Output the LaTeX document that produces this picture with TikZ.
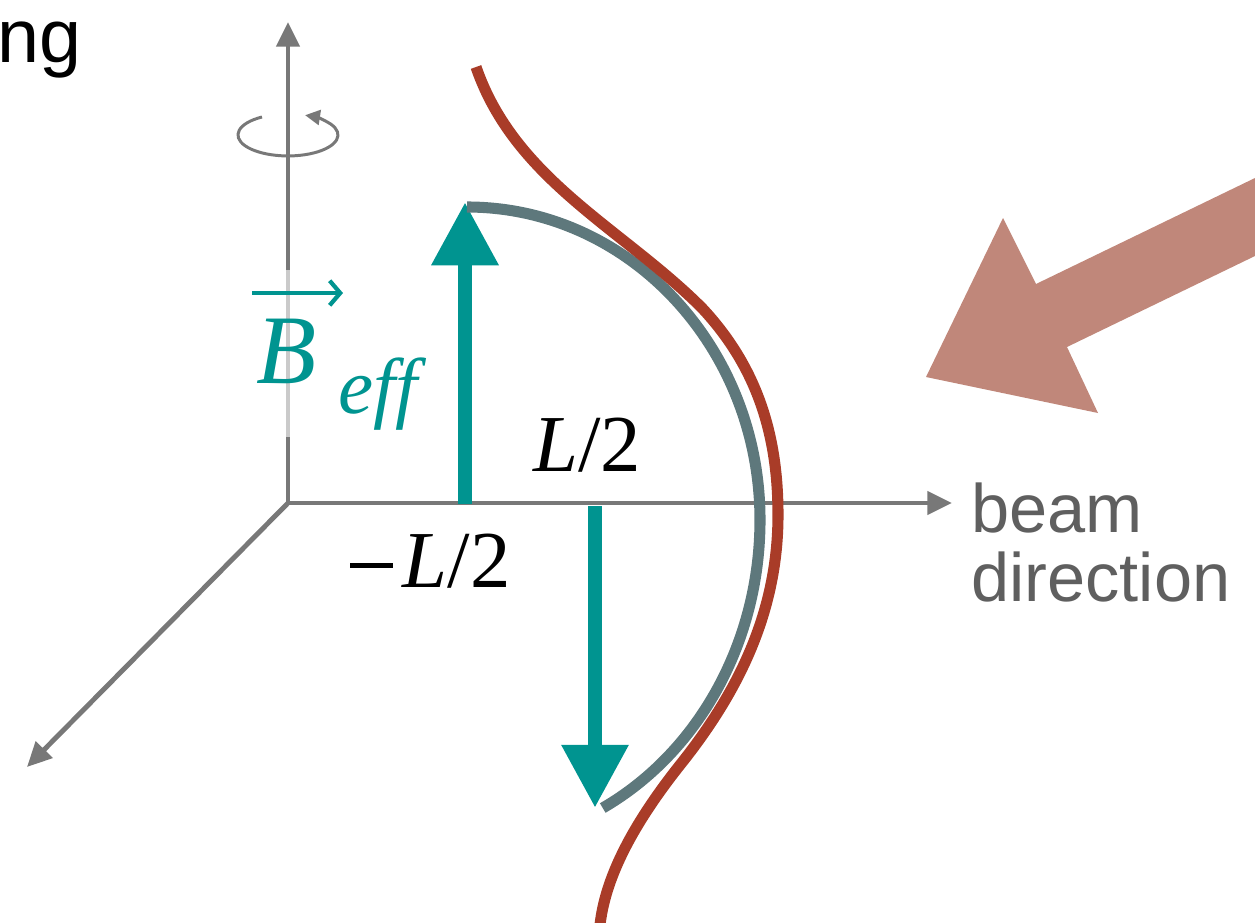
\documentclass[tikz,border=0pt]{standalone}
\usepackage{fontspec}
\setmainfont{Liberation Sans}
\newfontfamily\seriffont{Liberation Serif}
\usetikzlibrary{arrows.meta}
\definecolor{axisgray}{RGB}{120,120,120}
\definecolor{axislight}{RGB}{202,202,202}
\definecolor{field}{RGB}{0,148,144}
\definecolor{spin}{RGB}{94,120,124}
\definecolor{orbit}{RGB}{169,60,40}
\definecolor{beam}{RGB}{192,135,122}
\definecolor{labelgray}{RGB}{95,95,95}
\newcommand{\minussign}{\rule[0.24em]{0.53em}{0.055em}\hspace{0.12em}}

\begin{document}
\begin{tikzpicture}[x=0.02cm,y=-0.02cm,
    axis/.style={axisgray,line width=2.8pt,-{Triangle[length=14pt,width=13pt]}},
    fieldarrow/.style={field,line width=8.5pt,-{Triangle[length=36pt,width=36pt]}},
    lbl/.style={inner sep=0pt,anchor=base west,font=\seriffont\fontsize{46}{50}\selectfont}]
  \useasboundingbox (0,0) rectangle (1255,923);

  % axes
  \coordinate (O) at (288,503);
  \coordinate (up) at (288,22);
  \coordinate (beamend) at (952,503);
  \coordinate (depth) at (27,767);
  \draw[axis] (O) -- (up);
  \draw[axis] (O) -- (beamend);
  \draw[axis] (O) -- (depth);
  \draw[axislight,line width=2.8pt] (288,270) -- (288,437);
  % sense of rotation
  \draw[axisgray,line width=1.7pt,-{Triangle[length=8.5pt,width=8.5pt]}]
    (262,117) arc[start angle=238.7,end angle=-70,x radius=50,y radius=21];

  % field arrows
  \draw[fieldarrow] (465,504) -- (465,202);
  \draw[fieldarrow] (595,506) -- (595,808);

  % spin
  \draw[spin,line width=6.3pt] (467,207)
    arc[start angle=-90,end angle=0,x radius=293,y radius=313]
    arc[start angle=0,end angle=62.4,x radius=293,y radius=325];

  % orbit
  \draw[orbit,line width=6.3pt] (476,67)
    .. controls (515,180) and (622,228) .. (702,308)
    .. controls (760,370) and (778,440) .. (778,515)
    .. controls (778,610) and (740,690) .. (680,765)
    .. controls (630,828) and (605,880) .. (600,925);

  % incoming beam
  \fill[beam] (1255,178) -- (1036,284) -- (1003,218) -- (926,377)
    -- (1098,413) -- (1067,347) -- (1255,256) -- cycle;

  % labels
  \node[lbl,text=field,font=\seriffont\itshape\fontsize{56}{60}\selectfont] (B) at (256,383) {B};
  \node[lbl,text=field,font=\seriffont\itshape\fontsize{45}{50}\selectfont] (eff) at (338,413) {eff};
  \draw[field,line width=2.4pt,-{Straight Barb[length=6pt,width=14pt]}] (252,293) -- (343,293);
  \node[lbl] (half) at (533,471) {{\itshape L}/2};
  \node[lbl] (mhalf) at (350,587) {\minussign{\itshape L}/2};
  \node[inner sep=0pt,anchor=north west,align=left,text=labelgray,
    font=\fontsize{39}{39.3}\selectfont] (beamlbl) at (971,482) {beam\\direction};
  \node[inner sep=0pt,anchor=base west,font=\fontsize{43}{47}\selectfont] (cut) at (-3,62) {ng};
\end{tikzpicture}
\end{document}
